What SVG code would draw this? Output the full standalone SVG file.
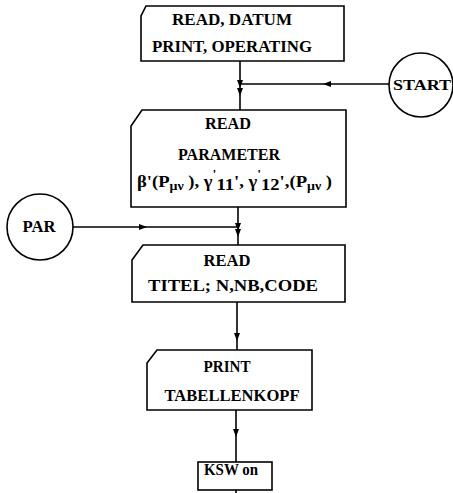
<svg xmlns="http://www.w3.org/2000/svg" width="453" height="493" viewBox="0 0 453 493">
<defs>
<marker id="arr" markerWidth="8" markerHeight="8" refX="4" refY="4" orient="auto" markerUnits="userSpaceOnUse">
<path d="M0,1 L8,4 L0,7 Z" fill="#000"/>
</marker>
<style>
.box{fill:#fff;stroke:#000;stroke-width:1.6}
.ln{fill:none;stroke:#000;stroke-width:1.6}
text{font-family:"Liberation Serif","Times New Roman",serif;font-weight:bold;font-size:16px;fill:#000;text-anchor:middle}
.sm{font-size:12px}
.st{font-size:15px}
</style>
</defs>
<g id="connectors">
<path class="ln" d="M240,61 L240,84 L240,92 L240,110" marker-mid="url(#arr)"/>
<path class="ln" d="M390,84 L327,84 L240,84" marker-mid="url(#arr)"/>
<path class="ln" d="M238,207 L238,227 L238,233 L238,245" marker-mid="url(#arr)"/>
<path class="ln" d="M73,227 L143,227 L238,227" marker-mid="url(#arr)"/>
<path class="ln" d="M237,302 L237,337 L237,350" marker-mid="url(#arr)"/>
<path class="ln" d="M236,410 L236,433 L236,462" marker-mid="url(#arr)"/>
<path class="ln" d="M236,490 L236,493"/>
</g>
<g id="box1">
<path class="box" d="M146,6 L344,6 L344,61 L141,61 L141,16 Z"/>
<text x="232" y="25" textLength="120" lengthAdjust="spacingAndGlyphs">READ, DATUM</text>
<text x="232" y="52" textLength="160" lengthAdjust="spacingAndGlyphs">PRINT, OPERATING</text>
</g>
<g id="start">
<circle class="box" cx="421" cy="85" r="32"/>
<text class="st" x="422" y="90" textLength="58" lengthAdjust="spacingAndGlyphs">START</text>
</g>
<g id="box2">
<path class="box" d="M142,110 L346,110 L346,207 L131,207 L131,126 Z"/>
<text x="228" y="129" textLength="46" lengthAdjust="spacingAndGlyphs">READ</text>
<text x="229" y="160" textLength="102" lengthAdjust="spacingAndGlyphs">PARAMETER</text>
<text x="137" y="187" style="text-anchor:start" textLength="195" lengthAdjust="spacingAndGlyphs">β'(P<tspan class="sm" dy="3">μν</tspan><tspan dy="-3"> ), γ</tspan><tspan class="sm" dy="-9">'</tspan><tspan dy="12">11</tspan><tspan dy="-3">', γ</tspan><tspan class="sm" dy="-9">'</tspan><tspan dy="12">12</tspan><tspan dy="-3">',(P</tspan><tspan class="sm" dy="3">μν</tspan><tspan dy="-3"> )</tspan></text>
</g>
<g id="par">
<circle class="box" cx="40" cy="227" r="33"/>
<text x="39" y="232" textLength="33" lengthAdjust="spacingAndGlyphs">PAR</text>
</g>
<g id="box3">
<path class="box" d="M143,245 L345,245 L345,302 L132,302 L132,260 Z"/>
<text x="227" y="266" textLength="47" lengthAdjust="spacingAndGlyphs">READ</text>
<text x="233" y="291" textLength="170" lengthAdjust="spacingAndGlyphs">TITEL; N,NB,CODE</text>
</g>
<g id="box4">
<path class="box" d="M157,350 L312,350 L312,410 L147,410 L147,363 Z"/>
<text x="227" y="372" textLength="47" lengthAdjust="spacingAndGlyphs">PRINT</text>
<text x="232" y="401" textLength="135" lengthAdjust="spacingAndGlyphs">TABELLENKOPF</text>
</g>
<g id="ksw">
<rect class="box" x="198" y="462" width="74" height="28"/>
<text x="231" y="475" textLength="54" lengthAdjust="spacingAndGlyphs">KSW on</text>
</g>
</svg>
